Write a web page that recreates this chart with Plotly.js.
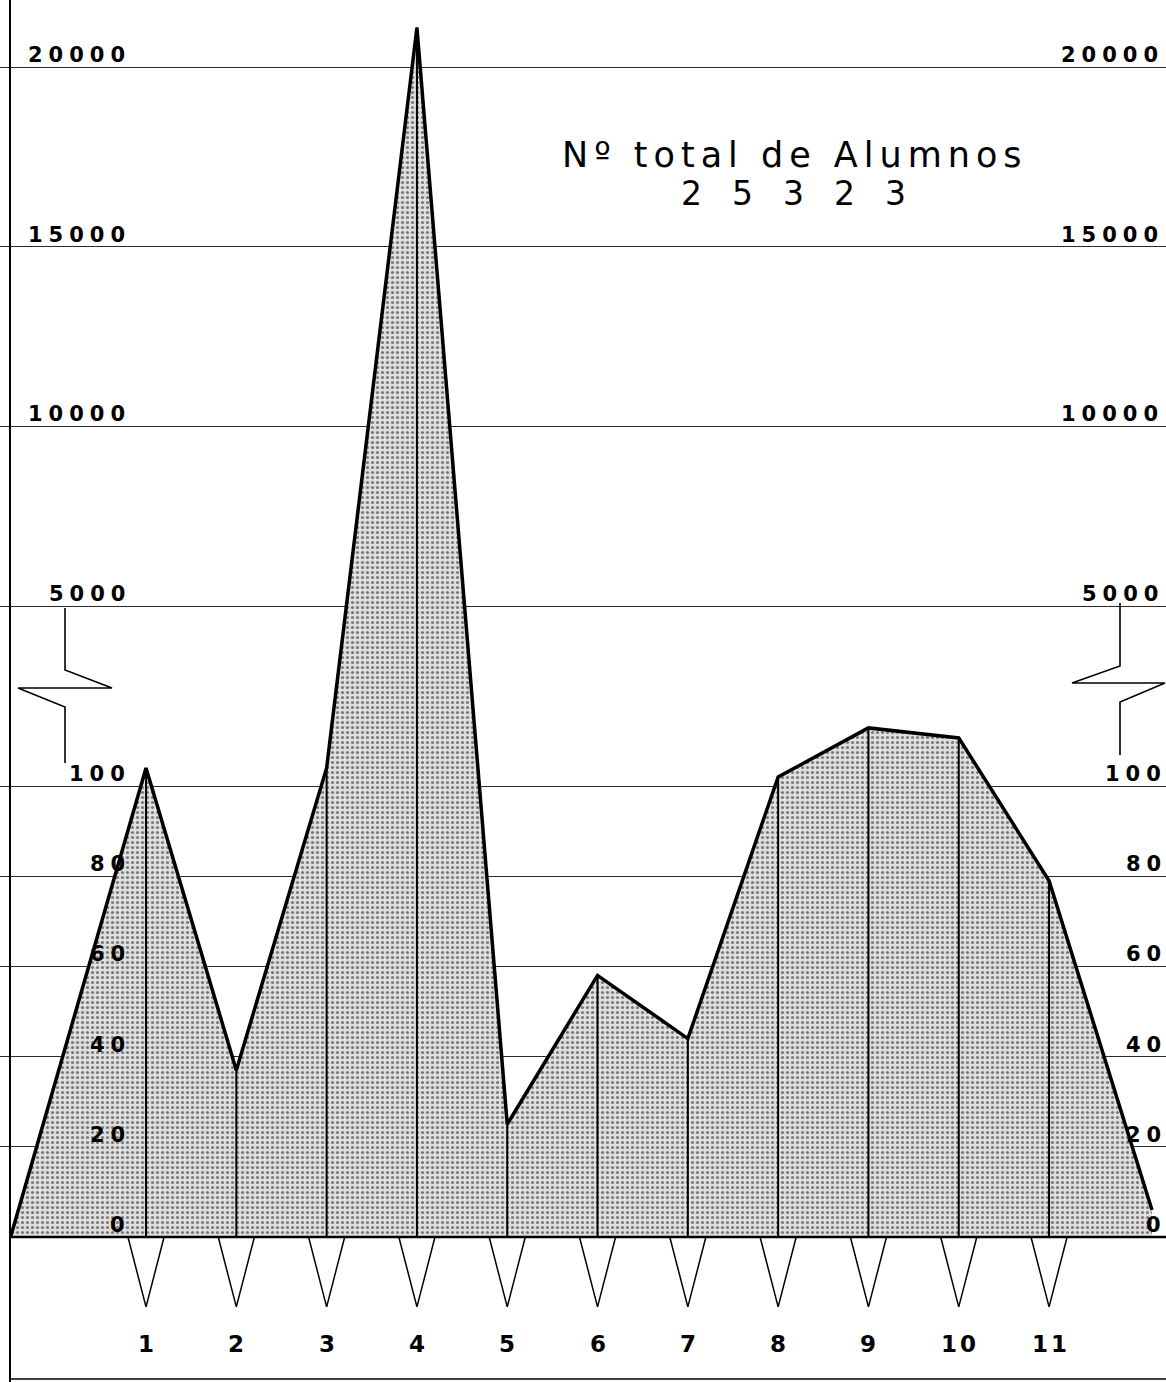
<!DOCTYPE html>
<html>
<head>
<meta charset="utf-8">
<script src="https://cdn.plot.ly/plotly-3.0.1.min.js"></script>
<style>
  html, body { margin: 0; padding: 0; background: #ffffff; }
  #chart { width: 1166px; height: 1382px; }
</style>
</head>
<body>
<div id="chart"></div>
<script>
// ---------------- data ----------------
const categories = ['1', '2', '3', '4', '5', '6', '7', '8', '9', '10', '11'];
const categoryX = [1, 2, 3, 4, 5, 6, 7, 8, 9, 10, 11];
const alumnos = [104, 37, 104, 21100, 25, 58, 44, 102, 1210, 900, 79];
const startPoint = { x: -0.5, value: 0 };
const endPoint = { x: 12.14, value: 6 };
const lowerTicks = [0, 20, 40, 60, 80, 100];
const upperTicks = [5000, 10000, 15000, 20000];
const titleText = 'Nº total de Alumnos';
const totalText = '25323';

// ---------------- broken-axis scale ----------------
// 0..105 linear, 105..5000 compressed break zone, 5000..20000 linear
const BREAK_LOW = 105, BREAK_HIGH = 5000;
const BREAK_TOP = 139.9;       // display position of 5000
const UPPER_SPAN = 119.5;      // display units per 15000
function disp(v) {
  if (v <= BREAK_LOW) return v;
  if (v <= BREAK_HIGH) return BREAK_LOW + (v - BREAK_LOW) / (BREAK_HIGH - BREAK_LOW) * (BREAK_TOP - BREAK_LOW);
  return BREAK_TOP + (v - BREAK_HIGH) / 15000 * UPPER_SPAN;
}

const W = 1166, H = 1382;
const FONT = 'DejaVu Sans, Verdana, sans-serif';
function spaced(t, ls) { return '<span style="letter-spacing:' + ls + 'px">' + t + '</span>'; }
function px(x, y) { return (x / W).toFixed(5) + ',' + (1 - y / H).toFixed(5); }

// ---------------- traces ----------------
const areaX = [startPoint.x].concat(categoryX, [endPoint.x]);
const areaY = [startPoint.value].concat(alumnos, [endPoint.value]).map(disp);

const area = {
  type: 'scatter', mode: 'lines', x: areaX, y: areaY,
  fill: 'tozeroy',
  fillpattern: { shape: '.', bgcolor: '#e0e0e0', fgcolor: '#7a7a7a', size: 5, solidity: 0.32 },
  line: { color: '#000', width: 3.5 },
  hoverinfo: 'skip', showlegend: false
};

const vx = [], vy = [];
categoryX.forEach((c, i) => { vx.push(c, c, null); vy.push(0, disp(alumnos[i]), null); });
const verticals = {
  type: 'scatter', mode: 'lines', x: vx, y: vy,
  line: { color: '#000', width: 2 }, hoverinfo: 'skip', showlegend: false
};

const TRI_HALF = 0.2, TRI_TIP = -15.5;
const tx = [], ty = [];
categoryX.forEach(c => { tx.push(c - TRI_HALF, c, c + TRI_HALF, null); ty.push(0, TRI_TIP, 0, null); });
const triangles = {
  type: 'scatter', mode: 'lines', x: tx, y: ty,
  line: { color: '#000', width: 1.5 }, hoverinfo: 'skip', showlegend: false
};

// ---------------- annotations ----------------
const annotations = [];
const LBL_FONT = { family: FONT, size: 21, color: '#000', weight: 'bold' };
const allTicks = lowerTicks.concat(upperTicks);
allTicks.forEach(t => {
  annotations.push({
    xref: 'paper', yref: 'y', x: 127 / W, y: disp(t), xanchor: 'right', yanchor: 'middle',
    yshift: 12, xshift: 6, showarrow: false,
    text: spaced(String(t), 6), font: LBL_FONT
  });
  const rightEdge = t >= BREAK_HIGH ? 1160 : 1163;
  annotations.push({
    xref: 'paper', yref: 'y', x: rightEdge / W, y: disp(t), xanchor: 'right', yanchor: 'middle',
    yshift: 12, xshift: 6, showarrow: false,
    text: spaced(String(t), 6), font: LBL_FONT
  });
});
categories.forEach((lab, i) => {
  annotations.push({
    xref: 'x', yref: 'paper', x: categoryX[i], y: 1 - 1344 / H, xanchor: 'center', yanchor: 'middle',
    showarrow: false, text: spaced(lab, 3), xshift: 1.5,
    font: { family: FONT, size: 23, color: '#000', weight: 'bold' }
  });
});
annotations.push({
  xref: 'paper', yref: 'paper', x: 792 / W, y: 1 - 155 / H, xanchor: 'center', yanchor: 'middle',
  showarrow: false, text: spaced(titleText, 6), xshift: 3,
  font: { family: FONT, size: 35, color: '#000' }
});
annotations.push({
  xref: 'paper', yref: 'paper', x: 793 / W, y: 1 - 194 / H, xanchor: 'center', yanchor: 'middle',
  showarrow: false, text: spaced(totalText, 30), xshift: 15,
  font: { family: FONT, size: 33, color: '#000' }
});

// ---------------- shapes (frame + axis-break marks) ----------------
const shapes = [
  { type: 'line', xref: 'paper', yref: 'paper', x0: 10 / W, x1: 10 / W, y0: 0, y1: 1, line: { color: '#000', width: 2 } },
  { type: 'line', xref: 'paper', yref: 'paper', x0: 10 / W, x1: 1, y0: 1 - 1379 / H, y1: 1 - 1379 / H, line: { color: '#000', width: 1.5 } },
  { type: 'line', xref: 'paper', yref: 'y', x0: 10 / W, x1: 1, y0: 0, y1: 0, layer: 'above', line: { color: '#000', width: 2.5 } },
  { type: 'path', xref: 'paper', yref: 'paper', layer: 'above',
    path: 'M' + px(65, 608) + ' L' + px(65, 670) + ' L' + px(112, 688) + ' L' + px(18, 688) + ' L' + px(65, 707) + ' L' + px(65, 763),
    line: { color: '#000', width: 1.6 } },
  { type: 'path', xref: 'paper', yref: 'paper', layer: 'above',
    path: 'M' + px(1120, 603) + ' L' + px(1120, 666) + ' L' + px(1072, 683) + ' L' + px(1165, 683) + ' L' + px(1120, 702) + ' L' + px(1120, 755),
    line: { color: '#000', width: 1.6 } }
];

const gridVals = lowerTicks.filter(t => t > 0).concat(upperTicks).map(disp);

const layout = {
  width: W, height: H,
  margin: { l: 0, r: 0, t: 0, b: 0, pad: 0 },
  paper_bgcolor: '#ffffff', plot_bgcolor: '#ffffff',
  showlegend: false,
  xaxis: { range: [-0.617, 12.295], showgrid: false, zeroline: false, showticklabels: false, showline: false, ticks: '' },
  yaxis: { range: [-32.15, 274.28], tickmode: 'array', tickvals: gridVals, showgrid: true,
           gridcolor: '#2a2a2a', gridwidth: 1, zeroline: false, showticklabels: false, showline: false, ticks: '' },
  annotations: annotations,
  shapes: shapes
};

Plotly.newPlot('chart', [area, verticals, triangles], layout, { staticPlot: true, displayModeBar: false });
</script>
</body>
</html>
